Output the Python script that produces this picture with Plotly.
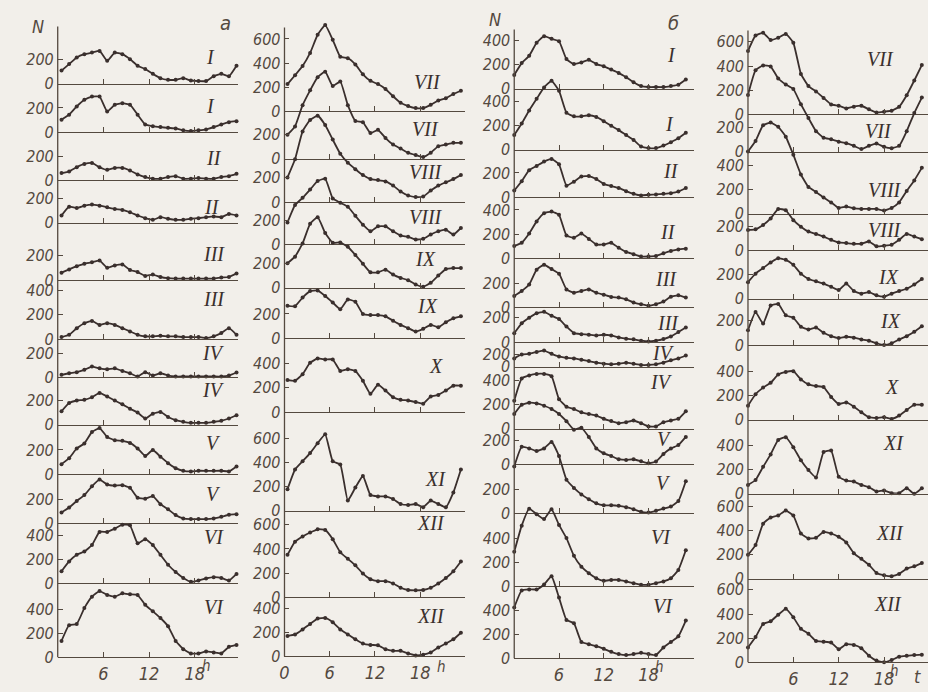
import plotly.graph_objects as go

W, H = 928, 692
PX_PER_N = 0.1225  # pixels per unit of N (200 -> ~24.5 px)

INK = "#3a2f2d"
AXIS_INK = "#54493f"
PAPER = "#f2efea"

HOURS = list(range(24))

# ---- panel a, left column (months I..VI) ----
A_I_1 = [109, 163, 218, 245, 258, 272, 190, 258, 245, 204, 150, 122, 82, 46, 33, 33, 46, 27, 22, 22, 63, 82, 63, 150]
A_I_2 = [103, 144, 212, 267, 294, 294, 171, 226, 239, 226, 144, 63, 49, 41, 35, 30, 14, 8, 14, 22, 41, 63, 82, 90]
A_II_1 = [60, 73, 109, 136, 144, 109, 87, 103, 103, 82, 49, 27, 14, 14, 27, 35, 14, 14, 19, 14, 14, 27, 35, 54]
A_II_2 = [60, 133, 122, 141, 150, 141, 128, 114, 106, 87, 60, 38, 24, 46, 33, 24, 24, 33, 38, 46, 52, 46, 73, 60]
A_III_1 = [60, 87, 114, 133, 147, 160, 101, 120, 128, 82, 65, 33, 44, 24, 14, 11, 11, 11, 11, 11, 11, 19, 24, 54]
A_III_2 = [16, 35, 90, 131, 150, 117, 131, 117, 90, 63, 35, 22, 22, 27, 22, 22, 16, 16, 16, 8, 22, 49, 90, 35]
A_IV_1 = [22, 35, 44, 63, 90, 76, 68, 76, 54, 35, 8, 44, 16, 35, 16, 8, 8, 8, 8, 8, 8, 8, 16, 41]
A_IV_2 = [112, 180, 201, 207, 228, 264, 234, 201, 169, 133, 101, 52, 92, 106, 65, 38, 24, 16, 16, 16, 24, 33, 52, 79]
A_V_1 = [82, 131, 212, 253, 348, 381, 307, 280, 275, 258, 212, 150, 199, 144, 90, 49, 27, 22, 27, 27, 27, 27, 22, 63]
A_V_2 = [90, 131, 185, 234, 307, 362, 321, 313, 316, 294, 212, 204, 226, 158, 117, 68, 41, 35, 35, 35, 41, 54, 71, 76]
A_VI_1 = [101, 182, 237, 264, 318, 427, 427, 454, 487, 481, 332, 367, 318, 237, 155, 95, 46, 14, 24, 41, 52, 46, 24, 79]
A_VI_2 = [136, 267, 277, 408, 503, 549, 517, 503, 530, 522, 517, 435, 381, 326, 258, 136, 68, 33, 33, 49, 41, 33, 87, 103]

# ---- panel a, right column (months VII..XII) ----
A_VII_1 = [226, 299, 375, 484, 634, 715, 593, 452, 441, 389, 307, 253, 226, 185, 125, 71, 44, 27, 27, 54, 90, 109, 144, 171]
A_VII_2 = [199, 267, 443, 566, 675, 721, 601, 639, 443, 313, 302, 212, 239, 171, 117, 84, 49, 30, 14, 49, 103, 117, 131, 131]
A_VIII_1 = [204, 354, 585, 680, 715, 639, 517, 400, 326, 272, 223, 190, 182, 171, 136, 87, 54, 41, 46, 95, 136, 163, 190, 223]
A_VIII_2 = [182, 326, 386, 454, 525, 544, 381, 345, 313, 237, 163, 109, 150, 150, 109, 73, 63, 41, 46, 82, 109, 122, 82, 136]
A_IX_1 = [204, 258, 367, 530, 585, 454, 373, 375, 340, 272, 199, 128, 128, 150, 109, 82, 63, 27, 8, 41, 101, 155, 163, 163]
A_IX_2 = [267, 264, 335, 389, 394, 348, 294, 239, 320, 300, 199, 190, 190, 180, 144, 109, 82, 54, 76, 109, 90, 131, 163, 180]
A_X = [264, 258, 313, 408, 443, 435, 435, 340, 354, 340, 258, 150, 226, 177, 122, 101, 95, 82, 68, 128, 141, 177, 218, 218]
A_XI = [177, 340, 408, 476, 558, 631, 408, 381, 82, 190, 286, 128, 117, 117, 95, 54, 46, 54, 27, 82, 54, 27, 150, 340]
A_XII_1 = [351, 460, 503, 536, 563, 558, 481, 373, 318, 264, 196, 150, 133, 133, 114, 79, 60, 57, 60, 79, 114, 160, 215, 296]
A_XII_2 = [169, 182, 223, 269, 313, 318, 283, 223, 182, 141, 106, 95, 92, 60, 46, 46, 24, 8, 14, 33, 73, 106, 141, 196]

# ---- panel б, left column ----
B_I_1 = [114, 212, 272, 381, 435, 413, 394, 245, 204, 218, 239, 204, 185, 158, 131, 95, 54, 22, 14, 14, 14, 22, 33, 76]
B_I_2 = [122, 218, 326, 422, 517, 571, 490, 307, 277, 277, 286, 272, 237, 199, 163, 122, 82, 27, 14, 14, 35, 63, 95, 141]
B_II_1 = [54, 131, 223, 258, 294, 316, 272, 95, 128, 171, 174, 150, 109, 92, 76, 49, 27, 14, 19, 22, 27, 33, 46, 76]
B_II_2 = [101, 128, 204, 305, 373, 386, 359, 188, 169, 204, 160, 114, 114, 128, 87, 52, 33, 14, 14, 19, 41, 60, 73, 79]
B_III_1 = [95, 136, 190, 313, 354, 318, 280, 150, 122, 136, 150, 122, 106, 87, 82, 68, 41, 27, 14, 27, 49, 90, 101, 82]
B_III_2 = [73, 155, 201, 237, 250, 218, 190, 128, 73, 65, 60, 54, 60, 54, 38, 27, 22, 11, 5, 11, 24, 46, 82, 120]
B_IV_1 = [68, 101, 106, 122, 133, 106, 84, 73, 68, 57, 46, 33, 24, 19, 24, 33, 24, 14, 14, 19, 33, 52, 68, 92]
B_IV_2 = [231, 416, 441, 454, 454, 435, 245, 182, 163, 136, 122, 109, 82, 63, 46, 54, 68, 46, 19, 19, 54, 68, 82, 144]
B_V_1 = [416, 492, 509, 503, 484, 457, 416, 356, 286, 302, 226, 131, 90, 68, 41, 35, 41, 24, 8, 22, 84, 131, 158, 226]
B_V_2 = [389, 552, 539, 517, 539, 593, 476, 280, 212, 158, 117, 84, 68, 68, 63, 52, 35, 14, 8, 22, 41, 57, 103, 267]
B_VI_1 = [286, 503, 644, 598, 558, 639, 509, 400, 253, 163, 109, 68, 46, 54, 54, 41, 27, 14, 14, 27, 41, 68, 136, 299]
B_VI_2 = [422, 563, 571, 571, 612, 680, 503, 318, 291, 136, 117, 101, 79, 54, 35, 27, 35, 46, 35, 27, 90, 136, 182, 313]

# ---- panel б, right column ----
C_VII_1 = [525, 653, 675, 615, 634, 666, 593, 335, 234, 190, 136, 82, 71, 49, 63, 71, 41, 16, 22, 30, 63, 158, 280, 408]
C_VII_2 = [471, 675, 715, 707, 607, 558, 520, 394, 280, 171, 117, 103, 84, 71, 49, 22, 49, 68, 41, 30, 49, 171, 321, 449]
C_VIII_1 = [517, 604, 734, 756, 721, 639, 490, 326, 223, 182, 136, 95, 49, 60, 46, 41, 41, 41, 27, 49, 95, 190, 277, 381]
C_VIII_2 = [169, 174, 209, 264, 343, 332, 250, 196, 155, 136, 114, 87, 65, 60, 54, 54, 73, 33, 38, 46, 87, 136, 114, 92]
C_IX_1 = [136, 207, 253, 299, 335, 321, 280, 207, 163, 144, 125, 98, 71, 125, 63, 41, 54, 27, 16, 41, 63, 82, 117, 163]
C_IX_2 = [122, 272, 177, 326, 340, 245, 226, 150, 128, 144, 101, 73, 57, 68, 60, 46, 35, 14, 0, 14, 46, 73, 109, 155]
C_X = [117, 212, 267, 307, 375, 397, 403, 335, 294, 280, 272, 190, 131, 144, 109, 63, 22, 16, 22, 8, 35, 82, 125, 125]
C_XI = [73, 114, 223, 326, 446, 468, 386, 277, 196, 135, 345, 359, 141, 109, 101, 73, 54, 19, 27, 5, 5, 46, 0, 46]
C_XII_1 = [196, 277, 454, 506, 522, 563, 522, 373, 332, 337, 386, 373, 345, 299, 209, 163, 114, 46, 27, 19, 38, 82, 101, 128]
C_XII_2 = [122, 209, 318, 340, 394, 443, 373, 277, 237, 177, 171, 163, 109, 150, 144, 117, 54, 14, 0, 19, 46, 54, 60, 63]

# y tick sets used on the scan
T2 = [0, 200]
T4 = [0, 200, 400]
T6 = [0, 200, 400, 600]
T2_LOW = ([0, 100], ["0", "200"])   # squeezed label on б/IV (first)

# layout of the four columns: pixel geometry of the scan
# panel = (values, roman label, baseline px, y ticks, label position px)
COLUMNS = [
    dict(x0=53, x1=234, px_h=7.65, shift=0.5, top=27, bottom_ticks=[6, 12, 18],
         panels=[
             (A_I_1, "I", 85, T2, (207, 58)),
             (A_I_2, "I", 134, T2, (207, 108)),
             (A_II_1, "II", 183, T2, (210, 160)),
             (A_II_2, "II", 226, T2, (208, 210)),
             (A_III_1, "III", 284, T2, (210, 258)),
             (A_III_2, "III", 344, T4, (210, 303)),
             (A_IV_1, "IV", 383, T2, (210, 358)),
             (A_IV_2, "IV", 431, T2, (210, 396)),
             (A_V_1, "V", 481, T2, (210, 450)),
             (A_V_2, "V", 531, T2, (210, 501)),
             (A_VI_1, "VI", 592, T4, (210, 545)),
             (A_VI_2, "VI", 667, T4, (210, 616)),
         ]),
    dict(x0=281, x1=462, px_h=7.58, shift=0.4, top=28, bottom_ticks=[0, 6, 12, 18],
         panels=[
             (A_VII_1, "VII", 113, T6, (425, 83)),
             (A_VII_2, "VII", 161, T2, (423, 131)),
             (A_VIII_1, "VIII", 205, T2, (423, 175)),
             (A_VIII_2, "VIII", 248, T2, (423, 220)),
             (A_IX_1, "IX", 292, T2, (423, 263)),
             (A_IX_2, "IX", 343, T2, (425, 310)),
             (A_X, "X", 418, T4, (433, 371)),
             (A_XI, "XI", 518, T6, (433, 486)),
             (A_XII_1, "XII", 606, T6, (428, 531)),
             (A_XII_2, "XII", 666, T4, (428, 625)),
         ]),
    dict(x0=512, x1=693, px_h=7.5, shift=0.0, top=30, bottom_ticks=[6, 12, 18],
         panels=[
             (B_I_1, "I", 90, T4, (670, 56)),
             (B_I_2, "I", 152, T4, (668, 126)),
             (B_II_1, "II", 200, T2, (670, 173)),
             (B_II_2, "II", 262, T4, (667, 235)),
             (B_III_1, "III", 312, T2, (665, 283)),
             (B_III_2, "III", 347, T2, (667, 328)),
             (B_IV_1, "IV", 372, T2_LOW, (662, 358)),
             (B_IV_2, "IV", 435, T4, (660, 388)),
             (B_V_1, "V", 471, T2, (663, 445)),
             (B_V_2, "V", 521, T2, (662, 490)),
             (B_VI_1, "VI", 595, T4, (660, 545)),
             (B_VI_2, "VI", 668, T4, (662, 615)),
         ]),
    dict(x0=747, x1=928, px_h=7.6, shift=0.0, top=31, bottom_ticks=[6, 12, 18],
         panels=[
             (C_VII_1, "VII", 116, T6, (880, 60)),
             (C_VII_2, "VII", 154, T2, (878, 133)),
             (C_VIII_1, "VIII", 217, T4, (885, 193)),
             (C_VIII_2, "VIII", 254, T2, (885, 233)),
             (C_IX_1, "IX", 303, T2, (888, 281)),
             (C_IX_2, "IX", 350, T2, (890, 326)),
             (C_X, "X", 426, T4, (892, 393)),
             (C_XI, "XI", 501, T4, (893, 450)),
             (C_XII_1, "XII", 587, T6, (890, 541)),
             (C_XII_2, "XII", 672, T6, (888, 613)),
         ]),
]

# free text on the scan: (text, x px, y px, size)
EXTRA_TEXT = [
    ("N", 33, 27, 18), ("а", 222, 23, 20),
    ("N", 493, 20, 18), ("б", 672, 23, 20),
    ("h", 203, 676, 15), ("h", 439, 677, 15), ("h", 658, 677, 15), ("h", 894, 681, 15),
    ("t", 917, 686, 18),
]


def px_x(p):
    return p / W


def px_y(p):
    return 1 - p / H


fig = go.Figure()
axes = {}
annotations = []
shapes = []
n = 0
for col in COLUMNS:
    xs = [h + col["shift"] for h in HOURS]
    last_i = len(col["panels"]) - 1
    for i, (vals, roman, base, ticks, lab) in enumerate(col["panels"]):
        n += 1
        suf = "" if n == 1 else str(n)
        if isinstance(ticks, tuple):
            tickvals, ticktext = ticks
        else:
            tickvals, ticktext = ticks, [str(v) for v in ticks]
        fig.add_trace(go.Scatter(
            x=xs, y=vals, mode="lines+markers",
            xaxis="x" + suf, yaxis="y" + suf,
            line=dict(color=INK, width=1.8, shape="spline", smoothing=0.4),
            marker=dict(color=INK, size=4),
            cliponaxis=False, showlegend=False, hoverinfo="skip",
        ))
        is_last = i == last_i
        axes["xaxis" + suf] = dict(
            domain=[px_x(col["x0"]), px_x(col["x1"])],
            range=[0, (col["x1"] - col["x0"]) / col["px_h"]],
            anchor="y" + suf,
            showline=True, linecolor=AXIS_INK, linewidth=1,
            ticks="inside", ticklen=5, tickcolor=AXIS_INK, tickwidth=1,
            tickvals=col["bottom_ticks"] if is_last else [6, 12, 18],
            showticklabels=is_last,
            tickfont=dict(family="DejaVu Sans Condensed", size=18, color=AXIS_INK, style="italic"),
            showgrid=False, zeroline=False, fixedrange=True,
        )
        axes["yaxis" + suf] = dict(
            domain=[px_y(base), 1],
            range=[0, base / PX_PER_N],
            anchor="x" + suf,
            showline=False, showgrid=False, zeroline=False,
            tickvals=tickvals, ticktext=ticktext,
            ticks="inside", ticklen=5, tickcolor=AXIS_INK, tickwidth=1,
            ticklabelstandoff=3,
            tickfont=dict(family="DejaVu Sans Condensed", size=16, color=AXIS_INK, style="italic"),
            fixedrange=True,
        )
        annotations.append(dict(
            text=roman, x=px_x(lab[0]), y=px_y(lab[1]), xref="paper", yref="paper",
            xanchor="center", yanchor="middle", showarrow=False,
            font=dict(family="Liberation Serif", size=20, color=INK, style="italic"),
        ))
    bottom = col["panels"][-1][2]
    shapes.append(dict(
        type="line", xref="paper", yref="paper",
        x0=px_x(col["x0"]), x1=px_x(col["x0"]), y0=px_y(bottom), y1=px_y(col["top"]),
        line=dict(color=AXIS_INK, width=1.3),
    ))

for text, x, y, size in EXTRA_TEXT:
    annotations.append(dict(
        text=text, x=px_x(x), y=px_y(y), xref="paper", yref="paper",
        xanchor="center", yanchor="middle", showarrow=False,
        font=dict(family="DejaVu Sans Condensed", size=size, color=AXIS_INK, style="italic"),
    ))

fig.update_layout(
    width=W, height=H, autosize=False,
    margin=dict(l=0, r=0, t=0, b=0, pad=0),
    paper_bgcolor=PAPER, plot_bgcolor="rgba(0,0,0,0)",
    annotations=annotations, shapes=shapes,
    **axes,
)

# the page's default 8px body margin would shift the figure; drop it
fig.write_html("out.html", config={"displayModeBar": False},
               post_script="document.body.style.margin='0';")
